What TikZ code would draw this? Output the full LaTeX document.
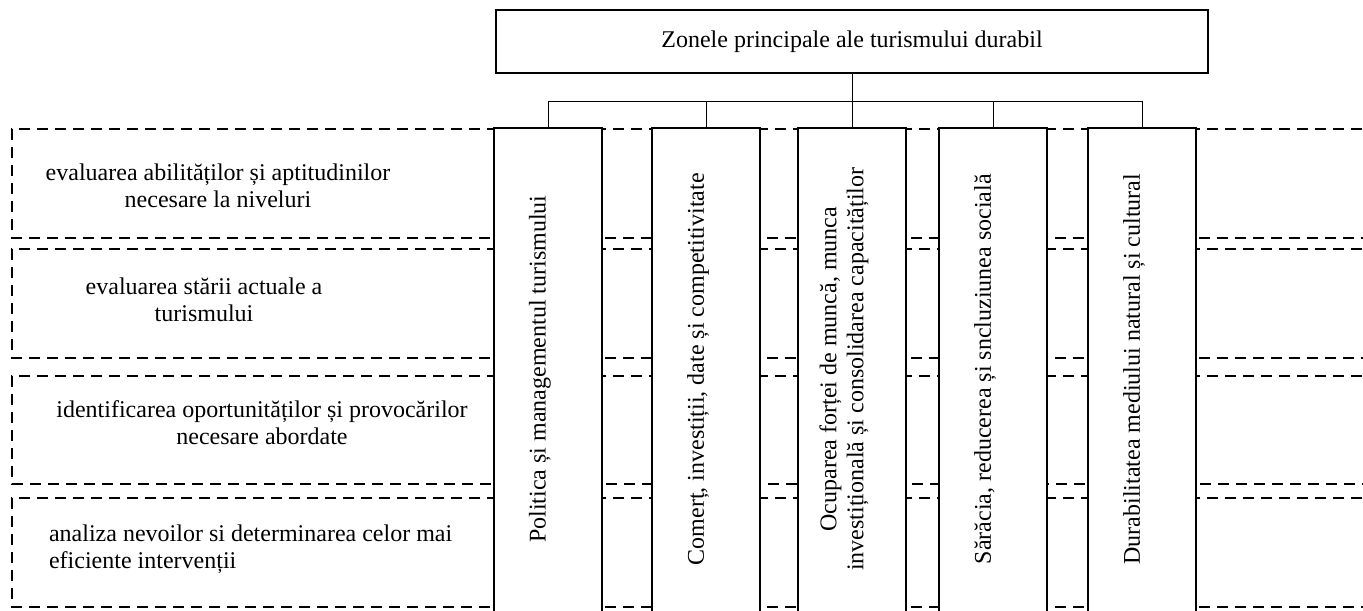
\documentclass[tikz,border=0pt]{standalone}
\usepackage{fontspec}
\setmainfont{Liberation Serif}
\usetikzlibrary{positioning}
\begin{document}
\begin{tikzpicture}[x=0.5pt,y=-0.5pt,
    every node/.style={font=\fontsize{12}{13.5}\selectfont},
    topbox/.style={draw,line width=1.2pt,minimum width=356pt,minimum height=31.5pt},
    colbox/.style={draw,fill=white,line width=1.2pt,minimum width=54pt,minimum height=245pt,anchor=north},
    coltext/.style={rotate=90,align=center},
    rowline/.style={dash pattern=on 5.5pt off 3.5pt,line width=1pt},
    link/.style={line width=0.5pt}]
    \useasboundingbox (0,0) rectangle (1363,610);
    \clip (0,0) rectangle (1363,610);
    % dashed rows
    \draw[rowline] (1380,129) -- (12,129) -- (12,238) -- (1380,238);
    \draw[rowline] (1380,249) -- (12,249) -- (12,358) -- (1380,358);
    \draw[rowline] (1380,376) -- (12,376) -- (12,484) -- (1380,484);
    \draw[rowline] (1380,498) -- (12,498) -- (12,607) -- (1380,607);
    \node[align=center] (t1) at (218,186) {evaluarea abilităților și aptitudinilor\\necesare la niveluri};
    \node[align=center] (t2) at (204,300) {evaluarea stării actuale a\\turismului};
    \node[align=center] (t3) at (262,423) {identificarea oportunităților și provocărilor\\necesare abordate};
    \node[align=left,anchor=west] (t4) at (42,549) {analiza nevoilor si determinarea celor mai\\eficiente intervenții};
    % top box and columns
    \node[topbox] (top) at (852,41.5) {Zonele principale ale turismului durabil};
    \node[colbox] (c1) at (548,127) {};
    \node[colbox] (c2) at (706,127) {};
    \node[colbox] (c3) at (852,127) {};
    \node[colbox] (c4) at (993,127) {};
    \node[colbox] (c5) at (1142,127) {};
    \node[coltext] (l1) at ([xshift=-4pt,yshift=2pt]c1.center) {Politica și managementul turismului};
    \node[coltext] (l2) at ([xshift=-4pt,yshift=2pt]c2.center) {Comerț, investiții, date și competitivitate};
    \node[coltext] (l3) at ([xshift=-4pt,yshift=2pt]c3.center) {Ocuparea forței de muncă, munca\\investițională și consolidarea capacităților};
    \node[coltext] (l4) at ([xshift=-4pt,yshift=2pt]c4.center) {Sărăcia, reducerea și sncluziunea socială};
    \node[coltext] (l5) at ([xshift=-4pt,yshift=2pt]c5.center) {Durabilitatea mediului natural și cultural};
    % connectors
    \coordinate (bus) at ([yshift=-13.5pt]top.south);
    \draw[link] (top.south) -- (bus);
    \draw[link] (c1.north) |- (bus) -| (c5.north);
    \foreach \c in {c2,c3,c4}
        \draw[link] (\c.north) -- (\c.north |- bus);
\end{tikzpicture}
\end{document}
